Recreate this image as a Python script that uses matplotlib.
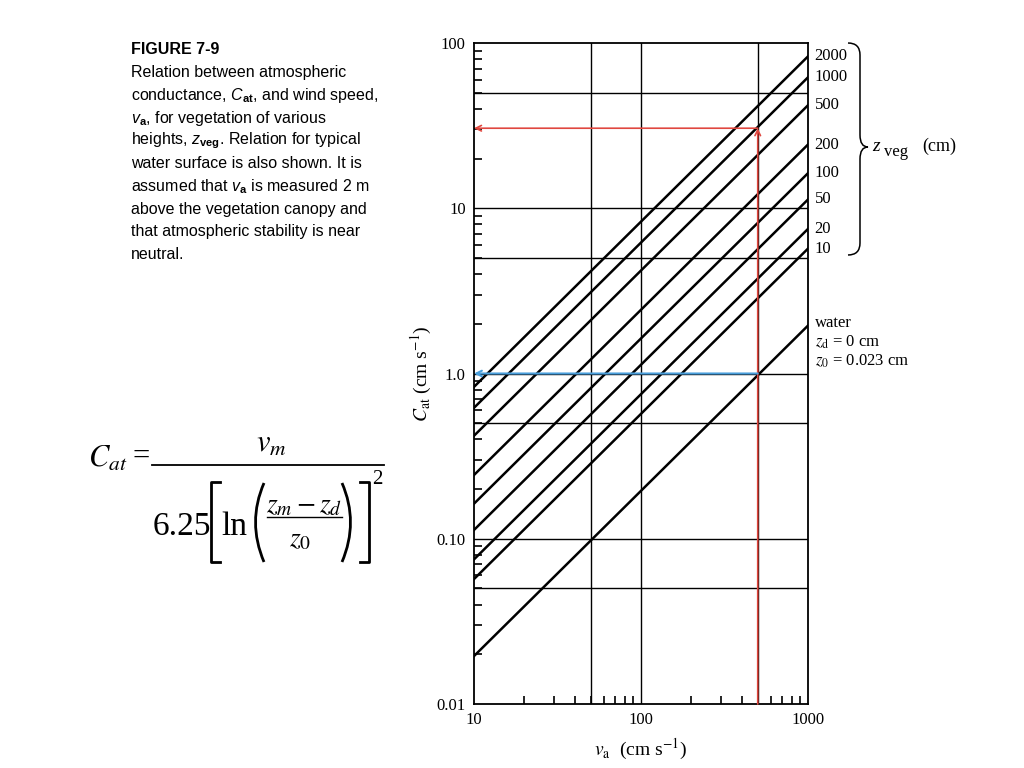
import matplotlib
matplotlib.use("Agg")
import matplotlib.pyplot as plt
from matplotlib.path import Path
from matplotlib.patches import PathPatch
from matplotlib.lines import Line2D
from matplotlib.ticker import LogLocator, FixedLocator, FixedFormatter, NullFormatter

# vegetation heights (cm) and conductance read at both ends of each line
zveg_labels = ["2000", "1000", "500", "200", "100", "50", "20", "10"]
v_ends = [10, 1000]
cat_at_10 = [0.83, 0.62, 0.42, 0.243, 0.163, 0.113, 0.075, 0.057]
cat_at_1000 = [83, 62, 42, 24.3, 16.3, 11.3, 7.5, 5.7]
water_ends = [0.0195, 1.95]

# worked examples drawn as arrows
example_v = 500
example_cat_veg = 30.5
example_cat_water = 1.0

grid_y = [0.05, 0.1, 0.5, 1, 5, 10, 50]
grid_x = [50, 100, 500]

plt.rcParams["font.family"] = "Liberation Serif"
plt.rcParams["mathtext.fontset"] = "custom"
plt.rcParams["mathtext.rm"] = "Liberation Sans"
plt.rcParams["mathtext.it"] = "Liberation Sans:italic"
plt.rcParams["mathtext.bf"] = "Liberation Sans:bold"

fig = plt.figure(figsize=(10.24, 7.68), dpi=100)
ax = fig.add_axes([474 / 1024, 1 - 704 / 768, 334 / 1024, 661 / 768])
ax.set_xscale("log")
ax.set_yscale("log")
ax.set_xlim(10, 1000)
ax.set_ylim(0.01, 100)

for y in grid_y:
    ax.axhline(y, color="black", lw=1.0, zorder=1)
for x in grid_x:
    ax.axvline(x, color="black", lw=1.0, zorder=1)

for lo, hi, lab in zip(cat_at_10, cat_at_1000, zveg_labels):
    ax.plot(v_ends, [lo, hi], color="black", lw=1.8, zorder=3)
    ax.text(1.02, hi, lab, transform=ax.get_yaxis_transform(),
            fontsize=12, va="center", ha="left")
ax.plot(v_ends, water_ends, color="black", lw=1.8, zorder=3)

red = "#e0473f"
blue = "#4a9fdc"
ax.annotate("", xy=(example_v, example_cat_veg), xytext=(example_v, 0.01),
            arrowprops=dict(arrowstyle="->", color=red, lw=1.2, shrinkA=0, shrinkB=0),
            zorder=4)
ax.annotate("", xy=(10, example_cat_veg), xytext=(example_v, example_cat_veg),
            arrowprops=dict(arrowstyle="->", color=red, lw=1.2, shrinkA=0, shrinkB=0),
            zorder=4)
ax.annotate("", xy=(10, example_cat_water), xytext=(example_v, example_cat_water),
            arrowprops=dict(arrowstyle="->", color=blue, lw=1.5, shrinkA=0, shrinkB=0),
            zorder=4)

ax.xaxis.set_major_locator(FixedLocator([10, 100, 1000]))
ax.xaxis.set_major_formatter(FixedFormatter(["10", "100", "1000"]))
ax.xaxis.set_minor_locator(LogLocator(base=10, subs=range(2, 10)))
ax.xaxis.set_minor_formatter(NullFormatter())
ax.yaxis.set_major_locator(FixedLocator([0.01, 0.1, 1, 10, 100]))
ax.yaxis.set_major_formatter(FixedFormatter(["0.01", "0.10", "1.0", "10", "100"]))
ax.yaxis.set_minor_locator(LogLocator(base=10, subs=range(2, 10)))
ax.yaxis.set_minor_formatter(NullFormatter())
ax.tick_params(which="both", direction="in", labelsize=12, pad=6)
ax.tick_params(which="major", length=0)
ax.tick_params(which="minor", length=6, width=1.2)
for s in ax.spines.values():
    s.set_linewidth(1.3)

ax.set_xlabel(r"$v_{\rm a}$  (cm s$^{-1}$)", fontsize=14, math_fontfamily="stix", labelpad=6)
ax.set_ylabel(r"$C_{\rm at}$ (cm s$^{-1}$)", fontsize=14, math_fontfamily="stix", labelpad=2)


def fx(px):
    return px / 1024


def fy(py):
    return 1 - py / 768


def fig_path(verts, codes, lw):
    p = Path([(fx(x), fy(y)) for x, y in verts], codes)
    fig.patches.append(PathPatch(p, transform=fig.transFigure, fill=False,
                                 lw=lw, color="black"))


def fig_line(xs, ys, lw):
    fig.add_artist(Line2D([fx(x) for x in xs], [fy(y) for y in ys],
                          transform=fig.transFigure, color="black", lw=lw))


# curly brace grouping the vegetation labels
fig_path([(848, 43), (860, 43), (860, 55), (860, 55),
          (860, 135), (860, 147), (868, 147),
          (860, 147), (860, 159), (860, 243),
          (860, 255), (848, 255), (848, 255)],
         [Path.MOVETO, Path.CURVE3, Path.CURVE3, Path.LINETO,
          Path.LINETO, Path.CURVE3, Path.CURVE3,
          Path.CURVE3, Path.CURVE3, Path.LINETO,
          Path.CURVE3, Path.CURVE3, Path.LINETO], 1.1)
fig.text(fx(872), fy(151), "z", fontsize=14, style="italic", va="baseline")
fig.text(fx(884), fy(156), "veg", fontsize=12, va="baseline")
fig.text(fx(922), fy(151), "(cm)", fontsize=13, va="baseline")

fig.text(fx(815), fy(323), "water", fontsize=12, va="center")
fig.text(fx(815), fy(342), r"$z_{\rm d}$ = 0 cm", fontsize=12, va="center",
         math_fontfamily="stix")
fig.text(fx(815), fy(361), r"$z_0$ = 0.023 cm", fontsize=12, va="center",
         math_fontfamily="stix")

caption = [
    r"Relation between atmospheric",
    r"conductance, $C_{\mathbf{at}}$, and wind speed,",
    r"$v_{\mathbf{a}}$, for vegetation of various",
    r"heights, $z_{\mathbf{veg}}$. Relation for typical",
    r"water surface is also shown. It is",
    r"assumed that $v_{\mathbf{a}}$ is measured 2 m",
    r"above the vegetation canopy and",
    r"that atmospheric stability is near",
    r"neutral.",
]
fig.text(fx(131), fy(50), "FIGURE 7-9", family="Liberation Sans",
         fontweight="bold", fontsize=11.5, va="center")
for i, line in enumerate(caption):
    fig.text(fx(131), fy(73 + 22.7 * i), line, family="Liberation Sans",
             fontsize=11.5, va="center")

# equation, assembled piece by piece
fig.text(fx(88), fy(467), r"$C_{at}$", fontsize=22, va="baseline", math_fontfamily="stix")
fig.text(fx(133), fy(465), "=", fontsize=22, va="baseline")
fig_line([152, 384], [465, 465], 1.3)
fig.text(fx(271), fy(452), r"$v_m$", fontsize=22, ha="center", va="baseline",
         math_fontfamily="stix")
fig.text(fx(153), fy(535), "6.25", fontsize=24, va="baseline")
fig_line([220, 211, 211, 220], [482, 482, 562, 562], 2.0)
fig.text(fx(221), fy(535), "ln", fontsize=24, va="baseline")
fig_path([(264, 483), (247, 522), (264, 562)],
         [Path.MOVETO, Path.CURVE3, Path.CURVE3], 2.0)
fig.text(fx(304), fy(512), r"$z_m - z_d$", fontsize=20, ha="center", va="baseline",
         math_fontfamily="stix")
fig_line([267, 342], [517, 517], 1.0)
fig.text(fx(300), fy(546), r"$z_0$", fontsize=20, ha="center", va="baseline",
         math_fontfamily="stix")
fig_path([(342, 483), (359, 522), (342, 562)],
         [Path.MOVETO, Path.CURVE3, Path.CURVE3], 2.0)
fig_line([360, 369, 369, 360], [482, 482, 562, 562], 2.0)
fig.text(fx(372), fy(484), "2", fontsize=15, va="baseline")

fig.savefig("out.png", dpi=100)
